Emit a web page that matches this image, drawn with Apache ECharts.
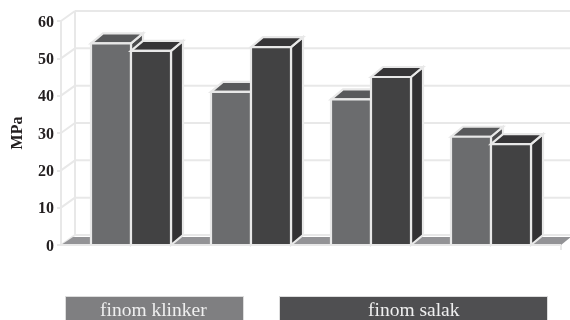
<!DOCTYPE html>
<html><head><meta charset="utf-8">
<style>html,body{margin:0;padding:0;background:#fff}#c{width:570px;height:320px}</style>
<script src="https://cdn.jsdelivr.net/npm/echarts@6/dist/echarts.min.js"></script>
</head><body><div id="c"></div>
<script>
var categories = ['1', '2', '3', '4'];
var seriesNames = ['finom klinker', 'finom salak'];
var klinker = [54, 41, 39, 29];
var salak = [52, 53, 45, 27];
var yTicks = [0, 10, 20, 30, 40, 50, 60];

var DX = 12, DY = 10, BAR = 40, LINE = '#e8e8e8', SERIF = '"Liberation Serif", serif';
var chart = echarts.init(document.getElementById('c'), null, {renderer: 'canvas'});

function poly(points, fill, stroke) {
  return {type: 'polygon', shape: {points: points},
    style: {fill: fill, stroke: stroke || LINE, lineWidth: 2.2, lineJoin: 'miter'}};
}
function seg(x1, y1, x2, y2) {
  return {type: 'line', shape: {x1: x1, y1: y1, x2: x2, y2: y2},
    style: {stroke: LINE, lineWidth: 2, fill: null}};
}
function barRender(offset, colors) {
  return function (params, api) {
    var top = api.coord([api.value(0), api.value(1)]);
    var base = api.coord([api.value(0), 0]);
    var x0 = top[0] + offset * BAR, x1 = x0 + BAR, y0 = top[1], y1 = base[1];
    return {type: 'group', children: [
      poly([[x1, y0], [x1 + DX, y0 - DY], [x1 + DX, y1 - DY], [x1, y1]], colors.side),
      poly([[x0, y0], [x0 + DX, y0 - DY], [x1 + DX, y0 - DY], [x1, y0]], colors.top),
      poly([[x0, y0], [x1, y0], [x1, y1], [x0, y1]], colors.front)
    ]};
  };
}
function wallRender(params, api) {
  var g = params.coordSys, left = g.x - 10;
  var y = api.coord([0, api.value(0)])[1];
  return {type: 'group', children: [
    seg(left, y, left + 14, y - DY),
    seg(left + 14, y - DY, 570, y - DY),
    {type: 'text', style: {text: String(api.value(0)), x: left - 7, y: y + 1.5, align: 'right', verticalAlign: 'middle',
      fill: '#231f20', font: 'bold 16px ' + SERIF}}
  ]};
}
function floorRender(params, api) {
  var g = params.coordSys, left = g.x - 10, right = g.x + g.width + 10;
  var y = api.coord([0, 0])[1], top = api.coord([0, yTicks[yTicks.length - 1]])[1];
  return {type: 'group', children: [
    seg(left + 14, top - DY, left + 14, y - DY),
    {type: 'polygon', shape: {points: [[left, y], [left + 12, y - 8], [right + 10, y - 8], [right, y]]},
      style: {fill: '#939396'}},
    seg(left, y, right, y),
    seg(right, y, right, y + 5)
  ]};
}

chart.setOption({
  animation: false,
  grid: {left: 71, top: 21, width: 480, height: 224, outerBoundsMode: 'none'},
  xAxis: {type: 'category', data: categories, axisLine: {show: false}, axisTick: {show: false}, axisLabel: {show: false}},
  yAxis: {
    type: 'value', min: 0, max: 60, interval: 10, offset: 10,
    name: 'MPa', nameLocation: 'middle', nameGap: 35, nameRotate: 90,
    nameTextStyle: {fontFamily: SERIF, fontWeight: 'bold', fontSize: 16, color: '#231f20'},
    axisLine: {show: true, lineStyle: {color: LINE, width: 2}},
    axisTick: {show: true, length: 4, lineStyle: {color: LINE, width: 2}},
    axisLabel: {show: false},
    splitLine: {show: false}
  },
  series: [
    {type: 'custom', name: 'walls', z: 1, silent: true, renderItem: wallRender, data: yTicks.map(function (t) { return [t]; }), encode: {y: 0}},
    {type: 'custom', name: 'floor', z: 2, silent: true, renderItem: floorRender, data: [[0]], encode: {y: 0}},
    {type: 'custom', name: seriesNames[0], z: 3, renderItem: barRender(-1, {front: '#6b6c6e', top: '#58595b', side: '#4a4a4c'}),
      data: klinker.map(function (v, i) { return [i, v]; }), encode: {x: 0, y: 1}},
    {type: 'custom', name: seriesNames[1], z: 4, renderItem: barRender(0, {front: '#424243', top: '#363537', side: '#323133'}),
      data: salak.map(function (v, i) { return [i, v]; }), encode: {x: 0, y: 1}}
  ],
  graphic: [
    {type: 'rect', left: 65, top: 296, shape: {width: 178, height: 26}, style: {fill: '#7f7f81', stroke: '#dcdcdc', lineWidth: 1}},
    {type: 'text', left: 100, top: 301, style: {text: seriesNames[0], fill: '#efefef', font: '19.5px ' + SERIF}},
    {type: 'rect', left: 279, top: 296, shape: {width: 268, height: 26}, style: {fill: '#4f4f51', stroke: '#dcdcdc', lineWidth: 1}},
    {type: 'text', left: 368, top: 301, style: {text: seriesNames[1], fill: '#efefef', font: '19.5px ' + SERIF}}
  ]
});
</script></body></html>
